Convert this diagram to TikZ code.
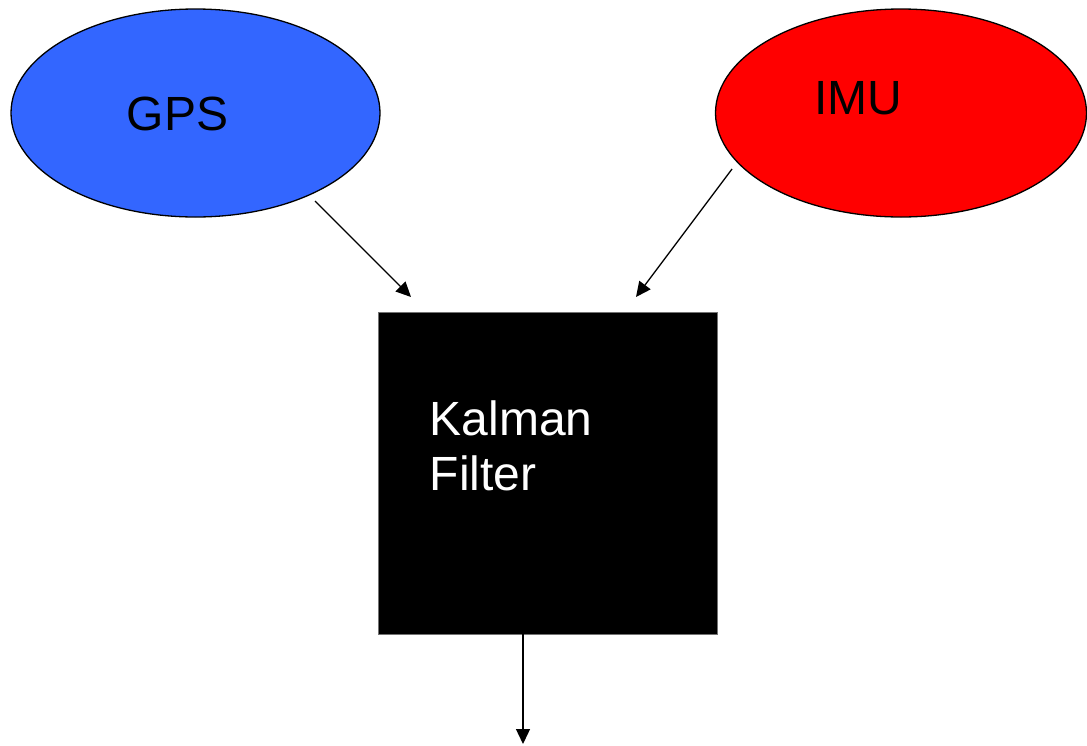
\documentclass[tikz,border=0pt]{standalone}
\usepackage{fontspec}
\setmainfont{Liberation Sans}
\usetikzlibrary{shapes.geometric,arrows.meta}
\definecolor{gpsblue}{RGB}{51,102,255}
\definecolor{imured}{RGB}{255,0,0}
\tikzset{
  sensor/.style={ellipse, draw=black, line width=1.3pt, inner sep=0pt,
    minimum width=369pt, minimum height=208pt},
  lbl/.style={inner sep=0pt, font=\fontsize{48}{55}\selectfont},
  conn/.style={line width=1.3pt, -{Triangle[length=15pt,width=14pt]}},
  filterbox/.style={rectangle, fill=black, draw=black!55, line width=1pt,
    inner sep=0pt, minimum width=339pt, minimum height=322pt}
}
\begin{document}
\begin{tikzpicture}[x=1pt,y=-1pt]
\useasboundingbox (0,0) rectangle (1087,745);
\node[sensor, fill=gpsblue] (gps) at (195.5,113) {};
\node[sensor, fill=imured, minimum width=371pt] (imu) at (901,113) {};
\node[filterbox] (kf) at (547.5,473) {};
\node[lbl, anchor=base] (gpsl) at (177.5,130) {GPS};
\node[lbl, anchor=base] (imul) at (858.5,114) {IMU};
\node[lbl, anchor=base west, align=left, text=white] (kfl) at (429.5,490) {Kalman\\Filter};
\coordinate (gpsout) at (315,201);
\coordinate (kfin1) at (411,297);
\coordinate (imuout) at (732,169);
\coordinate (kfin2) at (636,297);
\coordinate (kfout) at (523,634);
\coordinate (result) at (523,744);
\draw[conn] (gpsout) -- (kfin1);
\draw[conn] (imuout) -- (kfin2);
\draw[conn] (kfout) -- (result);
\end{tikzpicture}
\end{document}
